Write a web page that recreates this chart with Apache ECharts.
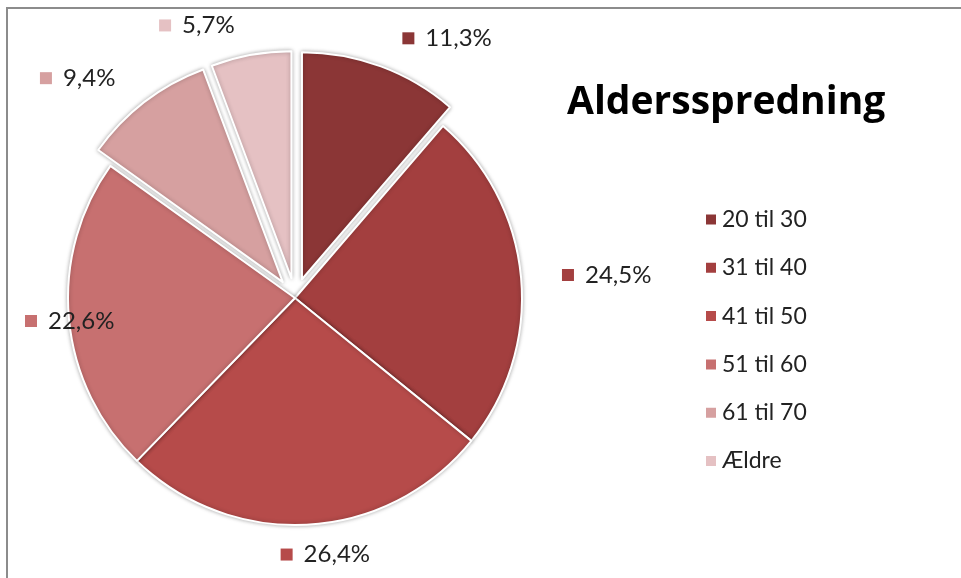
<!DOCTYPE html>
<html>
<head>
<meta charset="utf-8">
<script src="https://cdn.jsdelivr.net/npm/echarts@6/dist/echarts.min.js"></script>
<style>
    html, body { margin: 0; padding: 0; background: #fff; }
    #frame {
        position: absolute; left: 6px; top: 7px; width: 955px; height: 571px;
        border-left: 2px solid #8c8c8c; border-top: 2px solid #8c8c8c;
    }
    #chart { position: absolute; left: -8px; top: -9px; width: 961px; height: 578px; }
</style>
</head>
<body>
<div id="frame"><div id="chart"></div></div>
<script>
    // aldersgrupper og andele (%)
    const categories = ['20 til 30', '31 til 40', '41 til 50', '51 til 60', '61 til 70', 'Ældre']
    const values = [11.3, 24.5, 26.4, 22.6, 9.4, 5.7]
    const colors = ['#8B3636', '#A33F3F', '#B64B4A', '#C77070', '#D6A0A0', '#E5C1C3']
    // stykker der er trukket ud
    const exploded = ['20 til 30', '61 til 70', 'Ældre']

    const chart = echarts.init(document.getElementById('chart'))

    // lille firkant foran hver etiket
    const rich = { t: { fontSize: 24, color: '#222', fontFamily: 'Lato', padding: [0, 0, 0, 11] } }
    colors.forEach((c, i) => {
        rich['s' + i] = { width: 12, height: 12, backgroundColor: c }
    })

    const fmt = v => v.toFixed(1).replace('.', ',') + '%'

    const option = {
        animation: false,
        color: colors,
        title: {
            text: 'Aldersspredning',
            left: 562,
            top: 78,
            textStyle: { fontFamily: 'Open Sans', fontWeight: 'bold', fontSize: 39, color: '#000' }
        },
        legend: {
            orient: 'vertical',
            left: 699,
            top: 203,
            icon: 'rect',
            itemWidth: 12,
            itemHeight: 12,
            itemGap: 25.3,
            selectedMode: false,
            data: categories,
            textStyle: { fontFamily: 'Lato', fontSize: 23, color: '#222' }
        },
        series: [
            {
                type: 'pie',
                center: [295, 298],
                radius: 227,
                startAngle: 90,
                clockwise: true,
                selectedMode: 'multiple',
                selectedOffset: 20,
                itemStyle: {
                    borderColor: '#fff',
                    borderWidth: 2,
                    shadowBlur: 4,
                    shadowColor: 'rgba(0,0,0,0.3)'
                },
                emphasis: { disabled: true },
                label: {
                    show: true,
                    position: 'outside',
                    alignTo: 'none',
                    overflow: 'none',
                    formatter: p => '{s' + p.dataIndex + '|}{t|' + fmt(p.value) + '}',
                    rich: rich
                },
                labelLine: { show: false, length: 30, length2: 6 },
                // etiketter holdes inden for rammen, og etiketten under midten centreres
                labelLayout: function (params) {
                    const r = params.labelRect
                    const res = {}
                    if (r.x < 25) res.dx = 25 - r.x
                    if (r.y + r.height / 2 > 500) res.dx = -r.width / 2 + 4
                    return res
                },
                data: categories.map((name, i) => ({
                    name: name,
                    value: values[i],
                    selected: exploded.includes(name),
                    select: { itemStyle: { color: colors[i] } }
                }))
            }
        ]
    }

    chart.setOption(option)
</script>
</body>
</html>
